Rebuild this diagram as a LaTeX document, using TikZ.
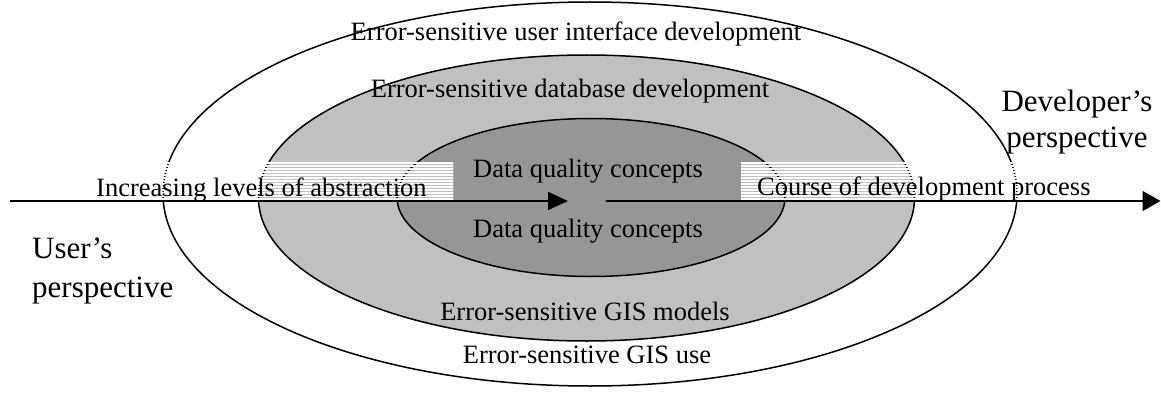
\documentclass[tikz,border=0pt]{standalone}
\usepackage{fontspec}
\setmainfont{Liberation Serif}
\usetikzlibrary{arrows.meta,shapes.geometric}
\definecolor{midgray}{HTML}{C0C0C0}
\definecolor{darkgray2}{HTML}{969696}
\begin{document}
\begin{tikzpicture}[x=1pt,y=-1pt,
  ell/.style={ellipse,draw=black,line width=1.5pt,inner sep=0pt,outer sep=0pt},
  lbl/.style={inner sep=0pt,anchor=base,font=\fontsize{26.5}{31}\selectfont},
  big/.style={inner sep=0pt,font=\fontsize{31}{36}\selectfont},
  axis/.style={line width=1.5pt},
  stripe/.style={white,line width=2pt},
  outl/.style={line width=1.5pt}]
\useasboundingbox (0,0) rectangle (1161,393);
\fill[white] (0,0) rectangle (1161,393);
% ellipses
\node[ell,fill=white,minimum width=854pt,minimum height=384pt] (outer) at (590,194) {};
\node[ell,fill=midgray,minimum width=656pt,minimum height=286pt] (mid) at (586.5,198) {};
\node[ell,fill=darkgray2,minimum width=388pt,minimum height=158pt] (inner) at (591,197.5) {};
% hatched boxes
\begin{scope}
  \clip (150,162) rectangle (453,200.5) (741,162) rectangle (1025,200.5);
  \fill[white] (0,0) rectangle (1161,393);
  \begin{scope}
    \clip (mid.center) ellipse [x radius=328, y radius=143];
    \fill[midgray] (0,0) rectangle (1161,393);
  \end{scope}
  \draw[outl] (outer.center) ellipse [x radius=427, y radius=192];
  \draw[outl] (mid.center) ellipse [x radius=328, y radius=143];
  \draw[outl] (inner.center) ellipse [x radius=194, y radius=79];
  \foreach \k in {0,...,12} \draw[stripe] (0,163+3*\k) -- (1161,163+3*\k);
\end{scope}
% axis arrows
\coordinate (a0) at (10,201);
\coordinate (a1) at (568,201);
\coordinate (b0) at (606,201);
\coordinate (b1) at (1160.5,201);
\draw[axis,-{Triangle[length=20pt,width=18pt]}] (a0) -- (a1);
\draw[axis,-{Triangle[length=18pt,width=20pt]}] (b0) -- (b1);
% labels
\node[lbl] (t1) at (576,41) {Error-sensitive user interface development};
\node[lbl] (t2) at (570,98) {Error-sensitive database development};
\node[lbl] (t3) at (588,177) {Data quality concepts};
\node[lbl] (t4) at (588,237) {Data quality concepts};
\node[lbl] (t5) at (585,320) {Error-sensitive GIS models};
\node[lbl] (t6) at (587,363) {Error-sensitive GIS use};
\node[lbl,anchor=base west] (t7) at (96,196) {Increasing levels of abstraction};
\node[lbl,anchor=base west] (t8) at (757,195) {Course of development process};
\node[big,anchor=base] (d1) at (1077,112) {Developer’s};
\node[big,anchor=base] (d2) at (1077,147) {perspective};
\node[big,anchor=base west] (u1) at (32,258) {User’s};
\node[big,anchor=base west] (u2) at (32,297) {perspective};
\end{tikzpicture}
\end{document}
